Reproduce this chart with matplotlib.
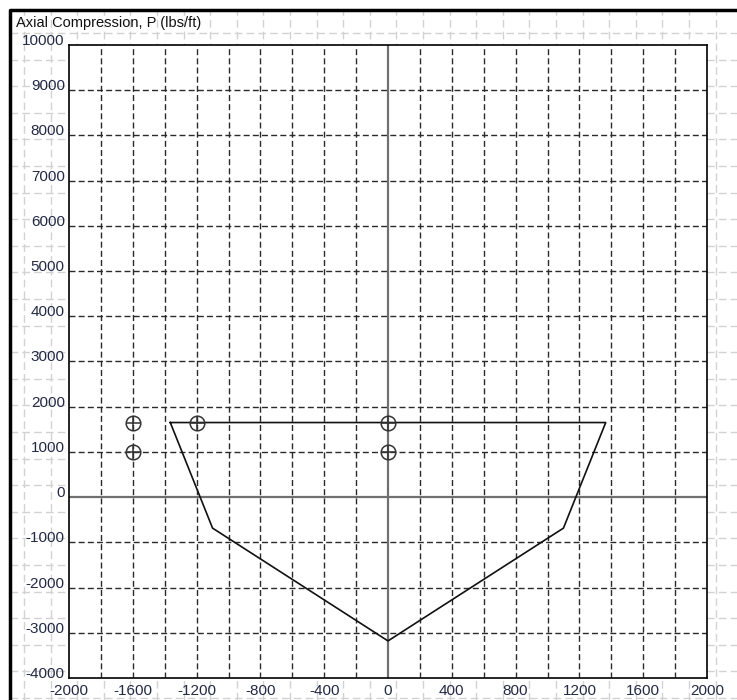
import matplotlib
matplotlib.use("Agg")
import matplotlib.pyplot as plt
from matplotlib.lines import Line2D
import numpy as np

# ---- data ----
curve_x = [-1365, 1365, 1100, 0, -1100, -1365]
curve_y = [1650, 1650, -685, -3180, -685, 1650]
point_x = [-1600, -1600, -1200, 0, 0]
point_y = [1650, 1000, 1650, 1650, 1000]
x_ticks = [-2000, -1600, -1200, -800, -400, 0, 400, 800, 1200, 1600, 2000]
y_ticks = [-4000, -3000, -2000, -1000, 0, 1000, 2000, 3000, 4000, 5000, 6000, 7000, 8000, 9000, 10000]
x_grid = [-1800, -1600, -1400, -1200, -1000, -800, -600, -400, -200,
          200, 400, 600, 800, 1000, 1200, 1400, 1600, 1800]
y_grid = [-3000, -2000, -1000, 1000, 2000, 3000, 4000, 5000, 6000, 7000, 8000, 9000]
title = "Axial Compression, P (lbs/ft)"

plt.rcParams['font.family'] = ['Liberation Sans', 'DejaVu Sans']

W, H = 737, 700
fig = plt.figure(figsize=(W / 100, H / 100), dpi=100)
fig.patch.set_facecolor('white')

# background paper grid (figure pixel coords)
bg_style = dict(color='#d2d2d2', lw=1.0, linestyle=(0, (5.5, 3)), zorder=0)
for k in range(40):
    px = 24 + 26.6 * k
    if px > W:
        break
    fig.add_artist(Line2D([px / W, px / W], [0, 1 - 10 / H], transform=fig.transFigure, **bg_style))
for k in range(40):
    py = 33 + 26.6 * k
    if py > H:
        break
    fig.add_artist(Line2D([10 / W, 1], [1 - py / H, 1 - py / H], transform=fig.transFigure, **bg_style))

# outer frame (left and top)
fig.add_artist(Line2D([10 / W, 10 / W, 1.0], [0, 1 - 10 / H, 1 - 10 / H],
                      transform=fig.transFigure, color='black', lw=2.5, zorder=5))

ax = fig.add_axes([69 / W, 22 / H, 638 / W, 633 / H])
ax.set_facecolor('white')
ax.set_xlim(-2000, 2000)
ax.set_ylim(-4000, 10000)

grid_style = dict(color='#2a2a2a', lw=1.0, linestyle=(0, (4.3, 2.3)), zorder=1)
for gx in x_grid:
    ax.axvline(gx, **grid_style)
for gy in y_grid:
    ax.axhline(gy, **grid_style)
ax.axvline(0, color='#707070', lw=1.6, zorder=2)
ax.axhline(0, color='#707070', lw=1.6, zorder=2)

ax.plot(curve_x, curve_y, color='#111111', lw=1.2, zorder=3)
ax.plot(point_x, point_y, linestyle='none', marker='o', ms=10.5, mfc='none',
        mec='#333333', mew=1.1, zorder=4)
ax.plot(point_x, point_y, linestyle='none', marker='+', ms=10.5,
        mec='#333333', mew=1.1, zorder=4)

for s in ax.spines.values():
    s.set_color('black')
    s.set_linewidth(1.2)

ax.set_xticks(x_ticks)
ax.set_yticks(y_ticks)
ax.set_xticklabels([str(v) for v in x_ticks])
ax.set_yticklabels([str(v) for v in y_ticks], va='baseline')
ax.tick_params(axis='both', length=0, labelsize=11, labelcolor='#222a44')
ax.tick_params(axis='x', pad=4.5)
ax.tick_params(axis='y', pad=3)

fig.text(16 / W, 1 - 26.5 / H, title, fontsize=10.5, color='#111111',
         ha='left', va='baseline')

fig.savefig('out.png', dpi=100)
